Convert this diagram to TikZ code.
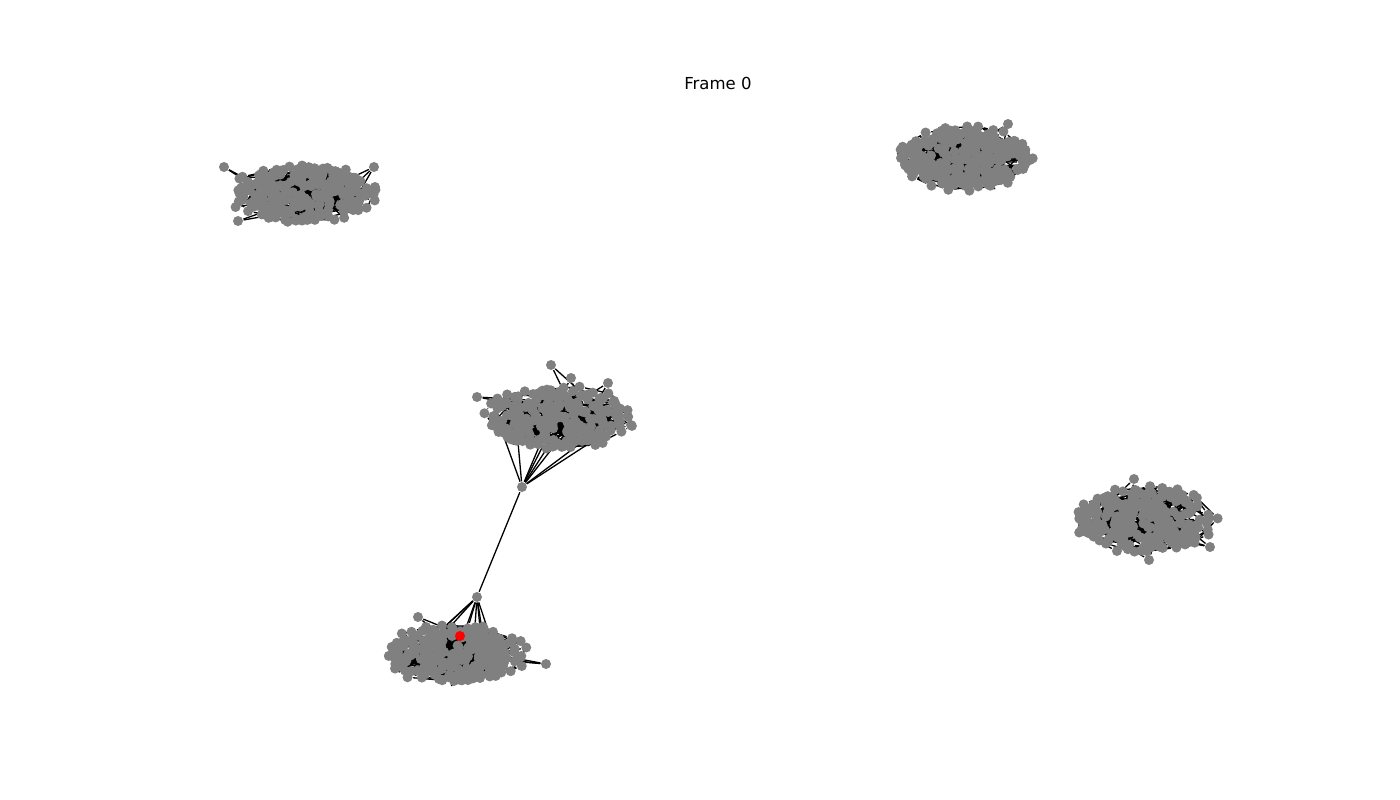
\documentclass[tikz,border=0pt]{standalone}
\usepackage{fontspec}
\setmainfont{DejaVu Sans}
\usetikzlibrary{backgrounds}
\definecolor{vgray}{HTML}{808080}

\begin{document}
\begin{tikzpicture}[x=0.01cm, y=-0.01cm,
    vertex/.style={circle, fill=vgray, inner sep=0pt, minimum size=0.1cm},
    link/.style={line width=0.37pt, black}]
    \useasboundingbox (0,0) rectangle (1400,800);
    \pgfmathsetseed{4711}

    % Clusters: name / centre / half axes
    \foreach \c/\cx/\cy/\rx/\ry in {a/303/194/66/27, b/965/158/62/29, c/558/418/68/29, d/455/654/65/27, e/1145/520/64/31} {
        \foreach \i in {1,...,220} {
            \pgfmathsetmacro{\ang}{360*rnd}
            \pgfmathsetmacro{\rad}{rnd^0.5}
            \node[vertex] (\c-\i) at ({\cx+\rx*\rad*cos(\ang)}, {\cy+\ry*\rad*sin(\ang)}) {};
        }
        % ragged rim
        \foreach \k in {1,...,28} {
            \pgfmathsetmacro{\ang}{360*\k/28+5*rand}
            \pgfmathsetmacro{\rad}{1.04+0.1*rand}
            \node[vertex] (\c-r\k) at ({\cx+\rx*\rad*cos(\ang)}, {\cy+\ry*\rad*sin(\ang)}) {};
        }
    }

    % Loose nodes round the clusters
    \foreach \c/\n/\px/\py in {a/o1/224/167, a/o2/374/167, a/o3/375/187, a/o4/238/221,
        b/o1/1008/124, b/o2/901/158, b/o3/1030/160,
        c/o1/551/365, c/o2/477/397, c/o3/608/383, c/o4/571/378, c/o5/631/425, c/br/522/487,
        d/br/477/597, d/o1/418/617, d/o2/546/664,
        e/o1/1134/479, e/o2/1210/547, e/o3/1149/560}
        \node[vertex] (\c-\n) at (\px,\py) {};

    \node[vertex, fill=red] (d-red) at (460,636) {};

    % Edges behind the nodes
    \begin{pgfonlayer}{background}
        \foreach \c in {a,b,c,d,e} {
            \foreach \i in {1,...,220} {
                \pgfmathrandominteger{\j}{1}{220}
                \draw[link] (\c-\i) -- (\c-\j);
            }
            \foreach \k in {1,...,28} {
                \pgfmathrandominteger{\s}{1}{3}
                \pgfmathtruncatemacro{\kn}{mod(\k+\s-1,28)+1}
                \pgfmathrandominteger{\j}{1}{220}
                \draw[link] (\c-r\k) -- (\c-r\kn);
                \draw[link] (\c-r\k) -- (\c-\j);
            }
        }
        \foreach \c/\n/\m in {a/o1/2, a/o2/3, a/o3/2, a/o4/2, b/o1/2, b/o2/2, b/o3/2,
            c/o1/2, c/o2/2, c/o3/2, c/o4/2, c/o5/2, c/br/8, d/br/9, d/o1/2, d/o2/3,
            e/o1/2, e/o2/3, e/o3/2}
            \foreach \k in {1,...,\m} {
                \pgfmathrandominteger{\j}{1}{220}
                \draw[link] (\c-\n) -- (\c-\j);
            }
        \draw[link] (c-br) -- (d-br);
    \end{pgfonlayer}

    % Title
    \node[font=\fontsize{4.7}{5.6}\selectfont] (title) at (718,83) {Frame 0};
\end{tikzpicture}
\end{document}
